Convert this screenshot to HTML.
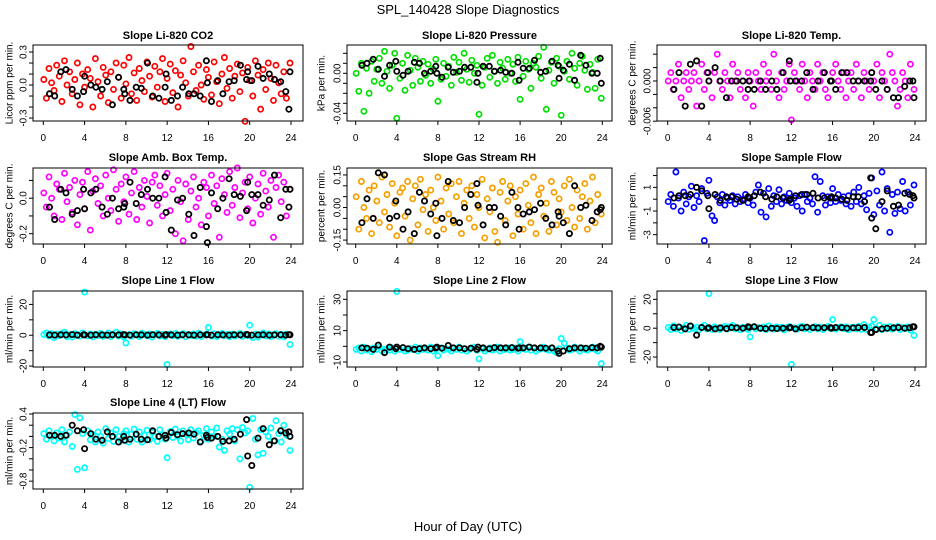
<!DOCTYPE html>
<html><head><meta charset="utf-8"><style>
body{margin:0;background:#fff}
svg{display:block;font-family:"Liberation Sans",sans-serif}
</style></head><body>
<svg id="chart" width="936" height="540" viewBox="0 0 936 540" xmlns="http://www.w3.org/2000/svg">
<rect x="0" y="0" width="936" height="540" fill="#fff"/>
<text x="468" y="14" font-size="13" text-anchor="middle">SPL_140428  Slope Diagnostics</text>
<text x="468" y="531" font-size="13" text-anchor="middle">Hour of Day (UTC)</text>
</svg>
<script>
const hours=[0.05,0.3,0.55,0.8,1.05,1.3,1.55,1.8,2.05,2.3,2.55,2.8,3.05,3.3,3.55,3.8,4.0,4.3,4.55,4.8,5.05,5.3,5.55,5.8,6.05,6.3,6.55,6.8,7.05,7.3,7.55,7.8,8.0,8.3,8.55,8.8,9.05,9.3,9.55,9.8,10.05,10.3,10.55,10.8,11.05,11.3,11.55,11.8,12.0,12.3,12.55,12.8,13.05,13.3,13.55,13.8,14.05,14.3,14.55,14.8,15.05,15.3,15.55,15.8,16.0,16.3,16.55,16.8,17.05,17.3,17.55,17.8,18.05,18.3,18.55,18.8,19.05,19.3,19.55,19.8,20.0,20.3,20.55,20.8,21.05,21.3,21.55,21.8,22.05,22.3,22.55,22.8,23.05,23.3,23.55,23.9];
const blackHours=[0.6,1.1,1.7,2.2,2.8,3.3,3.9,4.0,4.6,5.1,5.7,6.2,6.7,7.3,7.8,7.9,8.4,9.0,9.5,10.1,10.6,11.2,11.8,11.9,12.4,13.0,13.5,14.1,14.6,15.2,15.8,15.9,16.3,16.9,17.4,18.0,18.5,19.1,19.7,19.8,20.2,20.8,21.3,21.9,22.4,23.0,23.5,23.8,23.9];
const xTicks=[0,4,8,12,16,20,24];

const co2Color=[0.05,-0.12,0.15,0.02,-0.05,0.18,0.08,-0.15,0.22,0.0,0.12,-0.08,0.05,0.2,-0.18,0.1,-0.02,0.14,0.06,-0.2,0.24,0.03,-0.1,0.16,0.09,-0.16,0.12,-0.04,0.2,0.07,-0.12,0.18,0.01,0.25,-0.08,0.11,-0.14,0.15,0.04,-0.06,0.21,0.08,-0.11,0.17,-0.02,0.12,0.24,-0.15,0.06,0.19,-0.07,0.13,-0.2,0.09,0.22,0.02,-0.1,0.35,0.12,-0.05,0.18,0.0,-0.13,0.14,0.07,-0.09,0.21,0.03,-0.17,0.1,0.25,-0.03,0.15,-0.12,0.08,0.19,-0.06,0.11,-0.33,0.16,0.04,-0.1,0.22,0.09,-0.22,0.14,-0.04,0.2,0.06,-0.14,0.18,0.02,-0.08,0.12,-0.12,0.2];
const co2Black=[-0.08,-0.1,0.12,0.14,-0.04,-0.1,-0.06,0.08,0.0,-0.02,-0.04,0.03,-0.18,0.07,-0.04,-0.08,-0.14,-0.02,-0.03,0.2,-0.1,-0.12,-0.02,0.1,-0.14,-0.1,-0.02,-0.08,-0.08,-0.1,0.22,0.02,-0.15,0.04,-0.08,0.03,0.04,0.18,0.05,0.12,0.04,0.17,0.06,0.1,0.05,0.03,-0.06,-0.22,0.12];
const presColor=[0.0,-0.018,0.01,-0.038,0.005,-0.02,0.012,-0.008,0.004,0.015,-0.01,0.022,0.002,-0.015,0.008,0.02,-0.045,-0.005,0.01,-0.017,0.018,0.003,-0.012,0.015,0.006,-0.008,0.012,-0.002,0.009,-0.01,0.004,0.014,-0.028,-0.006,0.01,-0.003,0.007,-0.012,0.016,0.001,0.011,-0.007,0.02,0.004,-0.009,0.013,0.0,0.008,-0.041,-0.012,0.006,0.015,-0.004,0.018,0.002,-0.01,0.011,0.005,-0.006,0.014,0.0,0.009,-0.008,0.016,-0.026,-0.003,0.012,0.004,-0.015,0.01,0.006,0.017,-0.005,0.026,-0.036,0.003,0.011,-0.01,0.015,0.007,-0.042,0.002,0.012,-0.006,0.02,0.005,-0.012,0.01,0.017,0.003,-0.016,0.009,0.001,-0.015,0.014,-0.025];
const presBlack=[0.008,0.01,0.014,0.004,-0.003,0.008,0.012,0.002,-0.002,0.002,0.011,0.01,0.0,0.002,0.007,0.0,-0.004,0.006,0.001,0.002,0.006,0.006,-0.009,0.0,0.007,0.007,0.002,0.003,0.001,0.0,0.011,-0.007,0.005,0.005,0.013,0.001,0.002,0.012,0.008,-0.005,0.003,0.009,-0.007,0.018,0.008,0.0,0.0,0.015,-0.01];
const tempColor=[0,0.00125,-0.00125,0,0.0025,-0.0025,0,0.00125,-0.00125,0,0.00125,-0.00375,0,0.0025,-0.00125,0.00125,0,-0.0025,0.00125,0.004,0,-0.00125,0.00125,0,-0.0025,0.0025,0,0.00125,-0.00125,0,-0.0025,0.00125,0,-0.00375,0.00125,0,-0.00125,0.0025,0,0.00125,-0.00125,0.004,0,-0.0025,0.00125,-0.00125,0,0.0025,-0.0058,0.00125,0,-0.00125,0.0025,0,-0.0025,0.00125,0,-0.00125,0.0025,0,0.00125,-0.00125,-0.0025,0,0.00125,0.0025,0,-0.00125,0.00125,-0.0025,0,0.00125,-0.00125,0.0025,0,-0.0025,0.00125,0,-0.00125,0.00125,0,0.0025,-0.0025,0.00125,0,-0.00125,0.004,0.00125,0,-0.00375,-0.00125,0.00125,0,-0.0025,0.0025,-0.00125];
const tempBlack=[-0.00125,0.00125,-0.00375,0.0025,0.003,-0.00375,0.00125,0,0.002,0,-0.0025,0,0,0,-0.00125,0,-0.00125,0,-0.00125,0,-0.00125,0.00125,0.003,0,0,0,0.00125,-0.00125,0,0.00125,0,0,-0.00125,0.00125,0.00125,0,0,0,0,0.00125,-0.00125,0,-0.00125,-0.0025,-0.0025,-0.0008,0,0,-0.0025];
const ambColor=[0.03,-0.05,0.12,0.0,-0.1,0.08,0.05,-0.12,0.14,-0.02,0.06,-0.08,0.1,-0.15,0.02,0.09,-0.06,0.15,-0.18,0.04,0.11,-0.03,0.07,-0.1,0.13,0.0,-0.07,0.16,0.05,-0.13,0.08,-0.02,0.12,-0.09,0.03,0.15,-0.12,0.06,-0.05,0.1,0.01,-0.14,0.09,0.13,-0.04,0.07,-0.1,0.02,0.14,-0.07,0.05,-0.2,0.1,-0.02,-0.24,0.08,-0.12,0.04,0.12,-0.05,0.0,-0.15,0.09,0.06,-0.1,0.13,-0.03,0.07,-0.22,0.11,0.02,-0.08,0.15,-0.04,0.06,0.17,-0.11,0.03,0.09,-0.06,0.12,-0.14,0.0,0.08,-0.09,0.14,0.04,-0.05,0.1,-0.22,0.06,0.13,-0.02,0.09,-0.1,0.05];
const ambBlack=[-0.05,-0.12,0.05,0.03,-0.09,-0.07,0.05,-0.06,0.03,0.05,-0.05,-0.09,0.0,-0.06,-0.05,-0.03,0.09,-0.03,0.02,0.05,0.0,0.0,0.12,-0.08,-0.18,-0.01,0.0,-0.09,-0.21,0.06,-0.16,-0.25,0.03,-0.06,0.0,0.11,0.02,0.01,-0.07,0.09,0.02,0.02,-0.04,-0.01,0.13,-0.11,0.05,-0.05,0.05];
const rhColor=[0.05,-0.1,0.12,0.0,-0.05,0.08,-0.12,0.1,0.03,-0.07,0.14,-0.02,0.06,-0.09,0.11,0.02,-0.13,0.07,0.09,-0.04,0.12,-0.15,0.04,0.1,-0.08,0.13,-0.01,0.06,-0.11,0.08,0.0,-0.06,0.14,0.03,-0.1,0.09,-0.03,0.11,-0.07,0.05,0.12,-0.12,0.02,0.08,-0.05,0.1,-0.09,0.06,0.0,0.13,-0.14,0.04,-0.02,0.09,-0.11,-0.16,0.07,0.12,-0.06,0.03,0.1,-0.13,0.05,-0.03,0.08,-0.1,0.11,0.01,-0.07,0.14,-0.12,0.06,0.09,-0.04,0.02,-0.11,0.12,0.07,-0.08,0.04,-0.02,0.1,-0.06,0.13,0.0,-0.09,0.08,-0.05,0.05,0.11,-0.1,0.03,0.14,-0.07,0.06,-0.03];
const rhBlack=[-0.07,0.04,-0.05,0.16,0.15,-0.05,0.03,-0.04,-0.1,-0.02,-0.12,0.07,0.03,-0.03,0.02,-0.13,-0.05,0.12,-0.06,-0.07,0.0,0.06,0.11,0.01,-0.08,0.0,0.0,-0.04,-0.08,0.07,0.0,-0.1,-0.03,-0.02,-0.01,0.02,-0.05,-0.08,-0.02,-0.04,-0.07,-0.12,0.1,0.0,0.01,-0.06,-0.02,-0.01,0.0];
const sampleColor=[-0.2,0.4,-0.6,2.3,0.1,-1.0,0.6,-0.4,0.2,1.1,-0.7,0.3,-0.2,0.9,-3.5,0.5,1.6,-1.4,-1.8,0.2,-0.3,0.4,-0.5,0.1,-0.1,0.3,-0.4,0.2,-0.2,0.0,0.4,-0.3,0.1,-0.5,0.6,1.2,-1.1,0.5,-1.5,0.9,-0.6,0.3,-0.2,0.8,-0.4,0.2,-0.1,0.5,-0.3,0.1,-0.6,0.3,-1.0,0.4,-0.2,0.1,-0.4,1.9,-1.1,1.5,0.3,-0.5,0.2,-0.3,0.9,-0.2,0.4,-0.1,0.2,-0.4,0.3,-0.6,0.6,-0.2,1.0,-0.4,0.3,-0.9,0.5,1.8,-1.3,0.7,-0.5,2.3,-1.0,0.9,-2.8,0.4,-1.2,0.6,-0.8,1.5,-1.0,0.6,-0.5,1.2,-0.2];
const sampleBlack=[0.1,0.3,0.3,0.4,1.0,0.7,0.3,-0.8,0.4,-0.1,0.2,0.2,0.0,-0.1,0.2,0.1,0.3,0.6,0.2,0.0,0.2,0.1,-0.1,0.0,0.3,0.4,0.4,0.5,0.1,0.1,0.1,0.2,0.1,0.0,-0.1,0.2,0.2,-0.2,1.8,-1.6,-2.5,-0.2,0.7,-0.6,-0.5,0.5,0.4,0.3,0.1];
const line1Color=[0.5,1.5,-0.5,1.0,-1.5,0.8,-0.3,1.2,2.0,-0.8,0.4,-1.2,1.0,0.3,-0.6,1.5,28,-0.4,0.9,-1.0,0.6,-0.2,1.1,-0.7,0.3,1.4,-0.9,0.5,2.0,-0.5,0.8,-1.1,-5,0.4,-0.6,1.0,0.2,-0.9,1.3,0.5,-0.4,0.8,-1.2,0.3,1.1,-0.5,0.6,-0.8,-19,0.9,-0.3,1.2,-0.7,0.4,1.0,-1.0,0.6,-0.2,0.8,-0.6,1.3,-0.9,0.2,0.7,5,-0.5,1.0,-0.8,0.4,1.2,-0.3,0.6,-1.0,0.9,-0.5,0.3,1.1,-0.7,0.5,-0.2,6.5,-1.5,0.8,-1.2,0.6,1.5,-0.4,0.9,-0.8,0.3,1.0,-0.6,0.5,-1.0,0.7,-6];
const line1Black=[0.2,0.1,0.3,0.2,0.4,0.1,0.3,0.2,0.1,0.3,0.2,0.1,0.3,0.2,0.4,0.2,0.1,0.3,0.2,0.1,0.3,0.2,0.1,0.4,0.2,0.1,0.3,0.2,0.1,0.3,0.2,0.4,0.1,0.3,0.2,0.1,0.3,0.2,0.5,0.3,0.1,0.2,0.3,0.1,0.2,0.3,0.1,0.4,0.3];
const line2Color=[-2,-1,-3,-0.5,-2.5,-1.5,-3.5,-1,-2,-0.5,-3,-2,-1.5,-2.5,-1,-3,35,-2,-1,-3,-2.5,-1.5,-2,-0.5,-3,-1,-2,-1.5,-2.5,-0.5,-3,-2,-6,-1,-2.5,-1.5,-2,-3,-1,-2,-0.5,-2.5,-1.5,-3,-2,-1,-0.5,-2.5,-8,-1.5,-3,-2,-1,-2.5,-2,-0.5,-3,-1.5,-2,-1,-2.5,-2,-1,-3,3,-1.5,-2,-0.5,-2.5,-1,-3,-2,-1.5,-0.5,-2,-2.5,-1,-3,-4,-1.5,5,2,-1,-2.5,-2,-0.5,-1.5,-3,-1,-2,-2.5,-1.5,-0.5,-2,-3,-11];
const line2Black=[-1,-1.2,-2,0.8,-4,-0.5,-1.5,-0.5,-0.8,-1.5,-2,-1.5,-1,-1.5,-1,-0.5,-1.2,0.5,-1,-1,-1.5,-1.2,-2,-0.5,-1,-1.5,-0.8,-1,-1,-0.8,-1.2,-1,-1,-0.5,-1,-1,-1.2,-1,-3,-4.5,-3,-1.5,-1,-1,-1.2,-0.8,-1,0,-0.5];
const line3Color=[0.5,-1,1.5,-0.5,1,-1.5,0.3,2,-0.8,1.2,-0.3,0.6,-1.2,0.8,2,-0.5,24,-0.8,1,0.2,-1,0.5,1.3,-0.6,0.9,2,-0.4,0.3,-1.1,0.7,0.1,-0.9,-6,1,-0.5,0.4,-0.2,0.8,-1,1.5,0.3,-0.6,1,-0.3,0.7,-1.2,0.5,1.1,-25,0.3,-0.7,0.9,1.4,-0.4,0.6,-1,0.2,1.1,-0.5,0.8,-0.9,0.4,1.2,-0.2,6,-0.7,0.5,1,-0.3,0.9,-1.1,0.4,0.7,-0.5,1.3,-0.8,2.5,-1,0.6,1.5,6,-0.5,2,-1,0.8,-0.3,1.1,-0.7,0.4,1.2,-0.9,0.5,-0.2,0.9,-1.3,-5];
const line3Black=[0.5,0.8,-0.5,1.5,-4.8,0.5,0,0.3,-0.5,0.2,-0.3,0.5,0.3,0,1,0.6,1,0,-0.3,0,-0.2,0,0.2,0.5,-0.5,0.3,0.6,0.4,0.2,0.3,0.4,0.1,0.5,0.4,0,0.2,0.4,0.5,-3,-3,-1,-0.5,0,0.2,0.5,0,0.3,1,1];
const line4Color=[0.05,-0.05,0.1,0.0,-0.08,0.06,-0.03,0.12,-0.1,0.02,0.08,-0.18,0.39,-0.59,0.33,0.05,-0.56,0.1,-0.06,0.03,-0.1,0.08,0.0,-0.12,0.14,-0.04,0.06,-0.09,0.12,0.0,-0.07,0.05,0.1,-0.1,0.04,0.13,-0.05,0.08,-0.1,0.02,0.11,-0.06,0.07,0.0,-0.09,0.12,0.03,-0.05,-0.38,0.09,-0.02,0.13,0.0,-0.08,0.1,0.04,-0.06,0.12,-0.03,0.07,0.1,-0.09,0.02,0.14,-0.05,0.08,0.0,0.15,-0.19,-0.05,-0.25,0.1,0.04,0.14,-0.08,0.12,-0.4,0.16,0.06,0.1,-0.91,0.32,-0.05,-0.33,0.12,-0.3,0.08,0.0,0.15,-0.08,0.28,0.05,-0.1,0.2,0.02,-0.25];
const line4Black=[0.02,0.02,0.0,0.02,0.2,0.1,0.12,-0.22,0.05,-0.05,-0.07,0.08,0.0,-0.1,0.0,-0.07,-0.05,0.04,-0.05,-0.06,0.1,0.0,0.02,-0.03,0.07,0.03,0.05,0.06,0.04,-0.1,0.02,-0.02,-0.03,0.0,-0.09,-0.08,-0.05,0.04,0.3,-0.35,-0.52,-0.03,0.14,-0.15,-0.08,0.1,0.06,0.08,0.0];

const co2Ticks=[0.3,0.2,0.1,0,-0.1,-0.2,-0.3], co2Labels=["0.3","","","0.0","","","-0.3"];
const presTicks=[0.02,0.01,0,-0.01,-0.02,-0.03,-0.04], presLabels=["","","0.00","","","","-0.04"];
const tempTicks=[0.004,0.002,0,-0.002,-0.004,-0.006], tempLabels=["","","0.000","","","-0.006"];
const ambTicks=[0.1,0,-0.1,-0.2], ambLabels=["","0.0","","-0.2"];
const rhTicks=[0.15,0.1,0.05,0,-0.05,-0.1,-0.15], rhLabels=["0.15","","","0.00","","","-0.15"];
const sampleTicks=[2,1,0,-1,-2,-3], sampleLabels=["","1","","-1","","-3"];
const line1Ticks=[20,10,0,-10,-20], line1Labels=["20","","0","","-20"];
const line2Ticks=[30,20,10,0,-10], line2Labels=["30","","10","","-10"];
const line3Ticks=[20,10,0,-10,-20], line3Labels=["20","","0","","-20"];
const line4Ticks=[0.4,0.2,0,-0.2,-0.4,-0.6,-0.8], line4Labels=["0.4","","","-0.2","","","-0.8"];

const cols=[{l:33,r:303,x0:43.3,x24:291,yt:10},{l:347,r:612,x0:355.7,x24:602.3,yt:322},{l:657,r:926,x0:667.7,x24:915,yt:633}];
const rows=[{t:45,b:121,tt:39},{t:168,b:244,tt:161},{t:291,b:367,tt:284},{t:413,b:489,tt:406}];
const panels=[
 {name:'co2',title:'Slope Li-820 CO2',yl:'Licor ppm per min.',c:0,r:0,ymax:0.364,ymin:-0.327,col:'#ff0000',cy:co2Color,ky:co2Black,ticks:co2Ticks,labs:co2Labels},
 {name:'pressure',title:'Slope Li-820 Pressure',yl:'kPa per min.',c:1,r:0,ymax:0.0283,ymin:-0.0477,col:'#00e000',cy:presColor,ky:presBlack,ticks:presTicks,labs:presLabels},
 {name:'temp',title:'Slope Li-820 Temp.',yl:'degrees C per min.',c:2,r:0,ymax:0.00537,ymin:-0.00597,col:'#ff00ff',cy:tempColor,ky:tempBlack,ticks:tempTicks,labs:tempLabels},
 {name:'amb-box-temp',title:'Slope Amb. Box Temp.',yl:'degrees C per min.',c:0,r:1,ymax:0.17,ymin:-0.258,col:'#ff00ff',cy:ambColor,ky:ambBlack,ticks:ambTicks,labs:ambLabels},
 {name:'gas-rh',title:'Slope Gas Stream RH',yl:'percent per min.',c:1,r:1,ymax:0.182,ymin:-0.168,col:'#f5a000',cy:rhColor,ky:rhBlack,ticks:rhTicks,labs:rhLabels},
 {name:'sample-flow',title:'Slope Sample Flow',yl:'ml/min per min.',c:2,r:1,ymax:2.64,ymin:-3.79,col:'#0000ff',cy:sampleColor,ky:sampleBlack,ticks:sampleTicks,labs:sampleLabels},
 {name:'line1-flow',title:'Slope Line 1 Flow',yl:'ml/min per min.',c:0,r:2,ymax:28.7,ymin:-20.6,col:'#00ffff',cy:line1Color,ky:line1Black,ticks:line1Ticks,labs:line1Labels},
 {name:'line2-flow',title:'Slope Line 2 Flow',yl:'ml/min per min.',c:1,r:2,ymax:35.3,ymin:-13.2,col:'#00ffff',cy:line2Color,ky:line2Black,ticks:line2Ticks,labs:line2Labels},
 {name:'line3-flow',title:'Slope Line 3 Flow',yl:'ml/min per min.',c:2,r:2,ymax:25.8,ymin:-26.9,col:'#00ffff',cy:line3Color,ky:line3Black,ticks:line3Ticks,labs:line3Labels},
 {name:'line4-flow',title:'Slope Line 4 (LT) Flow',yl:'ml/min per min.',c:0,r:3,ymax:0.418,ymin:-0.94,col:'#00ffff',cy:line4Color,ky:line4Black,ticks:line4Ticks,labs:line4Labels}
];
const NS='http://www.w3.org/2000/svg';
const svg=document.getElementById('chart');
function mk(tag,attrs,parent){const e=document.createElementNS(NS,tag);for(const k in attrs)e.setAttribute(k,attrs[k]);parent.appendChild(e);return e;}
panels.forEach(p=>{
 const C=cols[p.c],R=rows[p.r];
 const g=mk('g',{},svg);
 
 
 const xs=h=>C.x0+(h/24)*(C.x24-C.x0);
 const ys=v=>R.t+(p.ymax-v)/(p.ymax-p.ymin)*(R.b-R.t);
 const t=mk('text',{x:(C.l+C.r)/2,y:R.tt,'font-size':11,'font-weight':'bold','text-anchor':'middle'},g);
 t.textContent=p.title;
 
 
 const cy=(R.t+R.b)/2;
 const yl=mk('text',{x:C.yt,y:cy,'font-size':10,'text-anchor':'middle','dominant-baseline':'central',transform:`rotate(-90 ${C.yt} ${cy})`},g);
 yl.textContent=p.yl;
 
 
 const pts=mk('g',{fill:'none'},g);
 
 
 const n=Math.min(hours.length,p.cy.length);
 for(let i=0;i<n;i++){
  const c=mk('circle',{cx:xs(hours[i]).toFixed(1),cy:ys(p.cy[i]).toFixed(1),r:2.6,stroke:p.col,'stroke-width':1.7},pts);
  
  
 }
 const m=Math.min(blackHours.length,p.ky.length);
 for(let i=0;i<m;i++){
  const c=mk('circle',{cx:xs(blackHours[i]).toFixed(1),cy:ys(p.ky[i]).toFixed(1),r:2.6,stroke:'#000','stroke-width':1.8},pts);
  
  
 }
 const box=mk('rect',{x:C.l,y:R.t,width:C.r-C.l,height:R.b-R.t,fill:'none',stroke:'#000','stroke-width':1},g);
 
 
 const xa=mk('g',{stroke:'#000','stroke-width':1},g);
 
 
 mk('line',{x1:xs(xTicks[0]),x2:xs(xTicks[xTicks.length-1]),y1:R.b,y2:R.b},xa);
 xTicks.forEach(v=>{
  mk('line',{x1:xs(v),x2:xs(v),y1:R.b,y2:R.b+4},xa);
  const tl=mk('text',{x:xs(v),y:R.b+20,'font-size':10,'text-anchor':'middle',stroke:'none'},xa);
  tl.textContent=String(v);
  
  
 });
 const ya=mk('g',{stroke:'#000','stroke-width':1},g);
 
 
 mk('line',{x1:C.l,x2:C.l,y1:ys(p.ticks[0]),y2:ys(p.ticks[p.ticks.length-1])},ya);
 p.ticks.forEach((v,i)=>{
  const y=ys(v);
  mk('line',{x1:C.l-4,x2:C.l,y1:y,y2:y},ya);
  if(p.labs[i]){
   const lx=C.l-9;
   const tl=mk('text',{x:lx,y:y,'font-size':10,'text-anchor':'middle','dominant-baseline':'central',stroke:'none',transform:`rotate(-90 ${lx} ${y})`},ya);
   tl.textContent=p.labs[i];
   
   
  }
 });
});
</script>
</body></html>
